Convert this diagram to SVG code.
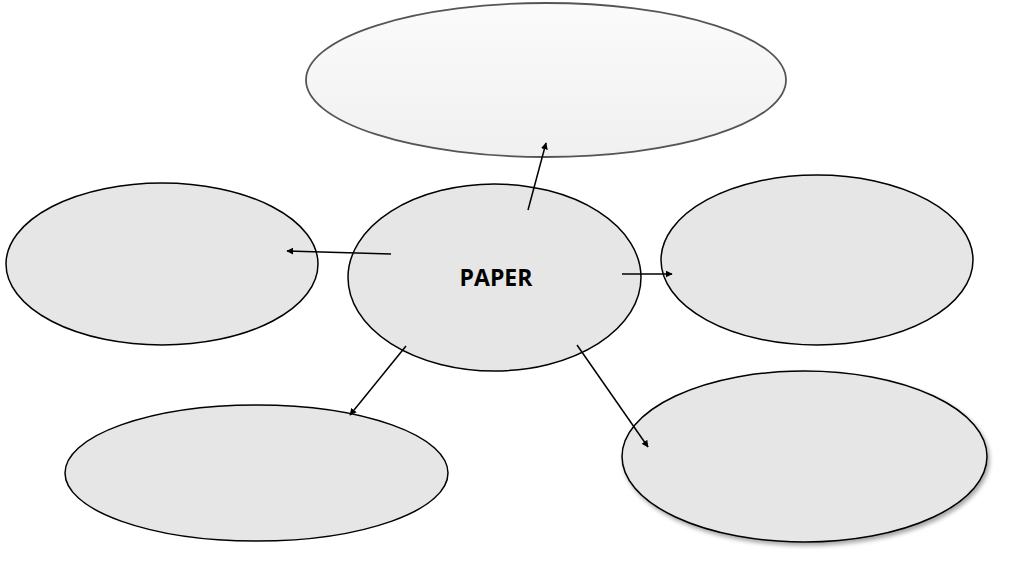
<svg xmlns="http://www.w3.org/2000/svg" width="1024" height="574" viewBox="0 0 1024 574">
<defs>
<marker id="ah" viewBox="0 0 10 10" refX="9" refY="5" markerWidth="7" markerHeight="7" markerUnits="userSpaceOnUse" orient="auto">
<path d="M0,0 L10,5 L0,10 z" fill="#000"/>
</marker>
<filter id="sh" x="-10%" y="-10%" width="125%" height="130%">
<feDropShadow dx="2" dy="3" stdDeviation="2" flood-color="#000" flood-opacity="0.35"/>
</filter>
<linearGradient id="tg" x1="0" y1="0" x2="0" y2="1">
<stop offset="0" stop-color="#fbfbfb"/>
<stop offset="1" stop-color="#f0f0f0"/>
</linearGradient>
<style>
.n{fill:#e6e6e6;stroke:#000;stroke-width:1.5}
.c{stroke:#000;stroke-width:1.5;fill:none;marker-end:url(#ah)}
.t{font-family:"Open Sans","Liberation Sans",sans-serif;font-weight:bold;font-size:23px;fill:#000}
</style>
</defs>
<rect width="1024" height="574" fill="#fff"/>
<g id="node-top"><ellipse cx="546" cy="80" rx="240" ry="77" fill="url(#tg)" stroke="#555" stroke-width="1.8"/></g>
<g id="node-left"><ellipse class="n" cx="162" cy="264" rx="156" ry="81"/></g>
<g id="node-right"><ellipse class="n" cx="817" cy="260" rx="156" ry="85"/></g>
<g id="node-bottom-left"><ellipse class="n" cx="256.5" cy="473" rx="191.5" ry="68"/></g>
<g id="node-bottom-right"><ellipse class="n" cx="804.5" cy="456.5" rx="182.5" ry="85.5" filter="url(#sh)"/></g>
<g id="node-center"><ellipse class="n" cx="494.5" cy="277.5" rx="146.5" ry="93.5"/>
<text class="t" x="496" y="286" text-anchor="middle">PAPER</text></g>
<g id="connectors">
<line class="c" x1="528" y1="210" x2="546" y2="143"/>
<line class="c" x1="391" y1="254" x2="287" y2="251"/>
<line class="c" x1="622" y1="274" x2="672" y2="274"/>
<line class="c" x1="406" y1="346" x2="350" y2="415"/>
<line class="c" x1="577" y1="345" x2="648" y2="447"/>
</g>
</svg>
